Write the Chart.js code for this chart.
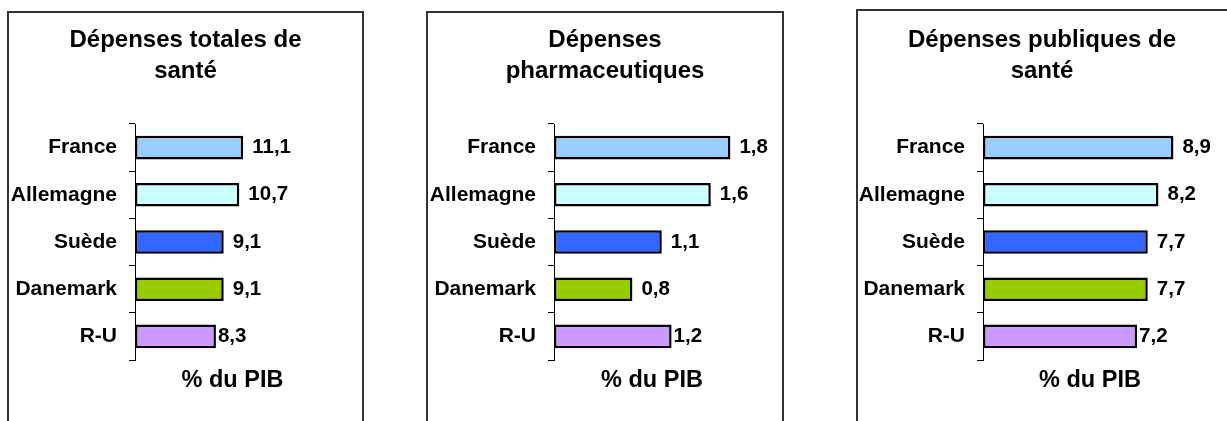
<!DOCTYPE html>
<html>
<head>
<meta charset="utf-8">
<script src="https://cdn.jsdelivr.net/npm/chart.js@4/dist/chart.umd.min.js"></script>
<style>
  body { margin: 0; width: 1227px; height: 421px; overflow: hidden; background: #fff; position: relative; }
  .box { position: absolute; border: 2px solid #333; border-bottom: none; box-sizing: border-box; height: 440px; }
  canvas { position: absolute; top: 0; }
</style>
</head>
<body>
<div class="box" style="left:7px;top:11px;width:357px"></div>
<div class="box" style="left:426px;top:11px;width:358px"></div>
<div class="box" style="left:856px;top:9px;width:400px"></div>
<canvas id="chartTotal" width="355" height="421" style="left:8px"></canvas>
<canvas id="chartPharma" width="356" height="421" style="left:427px"></canvas>
<canvas id="chartPublic" width="370" height="421" style="left:857px"></canvas>
<script>
// Data (% du PIB)
const countries = ['France', 'Allemagne', 'Suède', 'Danemark', 'R-U'];
const totalSpending = [11.1, 10.7, 9.1, 9.1, 8.3];
const pharmaSpending = [1.8, 1.6, 1.1, 0.8, 1.2];
const publicSpending = [8.9, 8.2, 7.7, 7.7, 7.2];
const titleTotal = ['Dépenses totales de', 'santé'];
const titlePharma = ['Dépenses', 'pharmaceutiques'];
const titlePublic = ['Dépenses publiques de', 'santé'];
const axisTitle = '% du PIB';

// Excel style palette, one colour per country
const barColors = ['#99CCFF', '#CCFFFF', '#3366FF', '#99CC00', '#CC99FF'];
// the R-U label sits right against its bar in the original
const labelGap = [9, 9, 9, 9, 2];

Chart.defaults.font.family = '"Liberation Sans", Arial, sans-serif';
Chart.defaults.color = '#000';

// draws the value after each bar, with a decimal comma
const valueLabels = {
    id: 'valueLabels',
    afterDatasetsDraw(chart) {
        const ctx = chart.ctx;
        const values = chart.data.datasets[0].data;
        ctx.save();
        ctx.font = 'bold 20.5px "Liberation Sans", Arial, sans-serif';
        ctx.fillStyle = '#000';
        ctx.textBaseline = 'middle';
        ctx.textAlign = 'left';
        chart.getDatasetMeta(0).data.forEach((bar, i) => {
            ctx.fillText(String(values[i]).replace('.', ','), bar.x + labelGap[i], bar.y);
        });
        ctx.restore();
    }
};

function makeChart(id, title, values, xMax, leftWidth, rightWidth) {
    return new Chart(document.getElementById(id), {
        type: 'bar',
        data: {
            labels: countries,
            datasets: [{
                data: values,
                backgroundColor: barColors,
                borderColor: '#000',
                borderWidth: 2.5,
                borderSkipped: false,
                categoryPercentage: 0.5,
                barPercentage: 1
            }]
        },
        options: {
            indexAxis: 'y',
            responsive: false,
            animation: false,
            layout: { padding: 0 },
            plugins: {
                legend: { display: false },
                tooltip: { enabled: false },
                title: {
                    display: true,
                    text: title,
                    color: '#000',
                    font: { size: 24, weight: 'bold', lineHeight: 1.3 },
                    padding: { top: 24.5, bottom: 37.1 }
                }
            },
            scales: {
                x: {
                    type: 'linear',
                    min: 0,
                    max: xMax,
                    grid: { display: false },
                    border: { display: false },
                    ticks: { display: false },
                    title: {
                        display: true,
                        text: axisTitle,
                        color: '#000',
                        font: { size: 23.5, weight: 'bold', lineHeight: 1.2 },
                        padding: { top: 0, bottom: 26.5 }
                    },
                    afterFit(scale) { scale.height = 61; }
                },
                y: {
                    type: 'category',
                    grid: { offset: true, drawOnChartArea: false, tickLength: 6, color: '#000', lineWidth: 1 },
                    border: { display: true, color: '#000', width: 1 },
                    ticks: { color: '#000', padding: 12, font: { size: 21, weight: 'bold' } },
                    afterFit(scale) { scale.width = leftWidth; }
                },
                // empty axis that only reserves room on the right
                spacer: {
                    type: 'linear',
                    position: 'right',
                    grid: { display: false },
                    border: { display: false },
                    ticks: { display: false },
                    afterFit(scale) { scale.width = rightWidth; }
                }
            }
        },
        plugins: [valueLabels]
    });
}

makeChart('chartTotal', titleTotal, totalSpending, 20, 127, 33);
makeChart('chartPharma', titlePharma, pharmaSpending, 2, 127, 33);
makeChart('chartPublic', titlePublic, publicSpending, 10, 126, 30);
</script>
</body>
</html>
